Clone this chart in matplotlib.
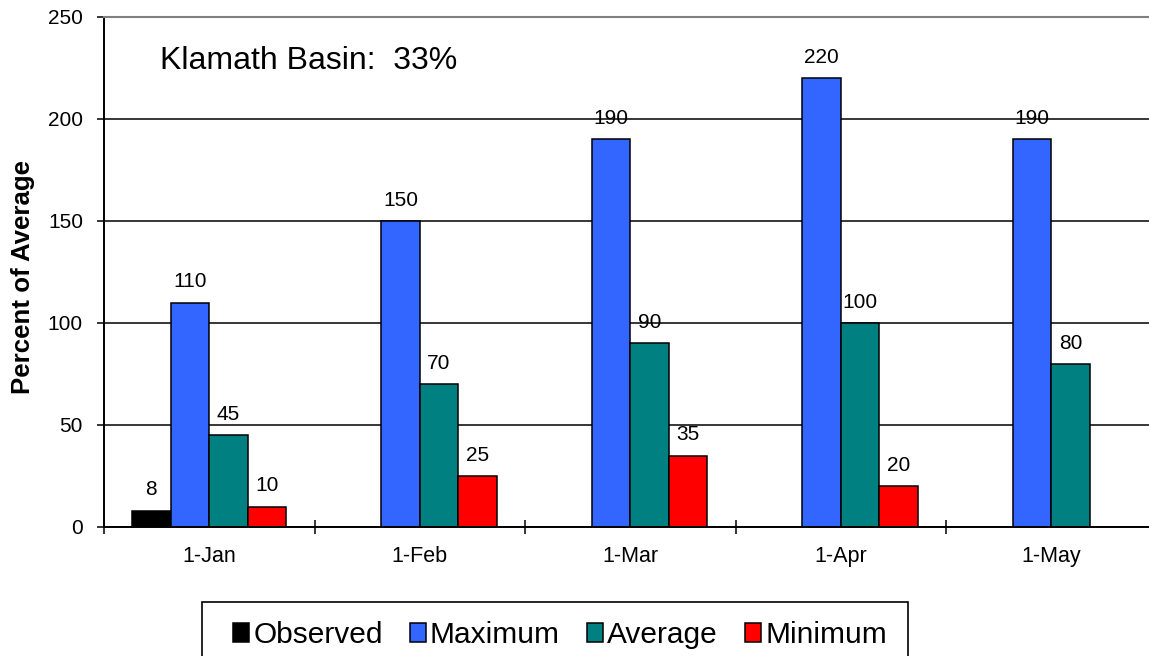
import numpy as np
import matplotlib
matplotlib.use("Agg")
import matplotlib.pyplot as plt
from matplotlib.patches import Rectangle
from matplotlib.ticker import FixedLocator, NullFormatter

plt.rcParams['font.family'] = ['Liberation Sans', 'DejaVu Sans']

# Forecast dates and percent-of-average values per series
categories = ['1-Jan', '1-Feb', '1-Mar', '1-Apr', '1-May']
observed = [8, np.nan, np.nan, np.nan, np.nan]
maximum = [110, 150, 190, 220, 190]
average = [45, 70, 90, 100, 80]
minimum = [10, 25, 35, 20, np.nan]

series_names = ['Observed', 'Maximum', 'Average', 'Minimum']
series_values = [observed, maximum, average, minimum]
series_colors = ['#000000', '#3366FF', '#008080', '#FF0000']

yticks = [0, 50, 100, 150, 200, 250]
title_text = 'Klamath Basin:  33%'
ylabel_text = 'Percent of Average'

W, H = 1149, 656
fig = plt.figure(figsize=(W / 100, H / 100), dpi=100)
ax = fig.add_axes([104 / W, 1 - 527 / H, 1052.5 / W, 510 / H])

x = np.arange(len(categories))
bar_w = 0.1833
offsets = (np.arange(len(series_names)) - 1.5) * bar_w

handles = []
for name, vals, col, off in zip(series_names, series_values, series_colors, offsets):
    vals = np.asarray(vals, dtype=float)
    bars = ax.bar(x + off, vals, width=bar_w, color=col, edgecolor='black',
                  linewidth=1.1, label=name, zorder=2)
    handles.append(bars)
    for xi, v in zip(x + off, vals):
        if np.isfinite(v):
            ax.annotate(f'{v:g}', xy=(xi, v), xytext=(0, 11),
                        textcoords='offset points', ha='center', va='baseline',
                        fontsize=15, color='black', zorder=4)

ax.set_xlim(-0.5, len(categories) - 0.5)
ax.set_ylim(0, 250)
ax.set_axisbelow(True)

# y axis
ax.set_yticks(yticks)
ax.yaxis.grid(True, color='black', linewidth=1.1)
ax.tick_params(axis='y', direction='out', length=5.2, width=1.1,
               labelsize=15, pad=10, colors='black')

# x axis: boundary ticks crossing the axis, labels centred on categories
ax.xaxis.set_major_locator(FixedLocator(np.arange(len(categories) + 1) - 0.5))
ax.xaxis.set_major_formatter(NullFormatter())
ax.xaxis.set_minor_locator(FixedLocator(x))
ax.set_xticklabels(categories, minor=True)
ax.tick_params(axis='x', which='major', direction='inout', length=9.5, width=1.1)
ax.tick_params(axis='x', which='minor', length=0, labelsize=15.5, pad=13.5)

for side in ['left', 'bottom']:
    ax.spines[side].set_color('black')
    ax.spines[side].set_linewidth(1.4)
ax.spines['top'].set_color('#808080')
ax.spines['top'].set_linewidth(1.5)
ax.spines['right'].set_visible(False)

fig.text(160 / W, 1 - 69.3 / H, title_text, fontsize=23, ha='left',
         va='baseline', color='black')
fig.text(23 / W, 1 - 276.5 / H, ylabel_text, fontsize=18.6, fontweight='bold',
         rotation=90, ha='center', va='center')

# legend box and entries
fig.patches.append(Rectangle((202 / W, -0.05), (908 - 202) / W, 0.05 + (656 - 602) / H,
                             transform=fig.transFigure, facecolor='white',
                             edgecolor='black', linewidth=1.2, zorder=1))
leg = fig.legend(handles=handles, labels=series_names, loc='upper left',
                 bbox_to_anchor=(233 / W, 1 - 621 / H), ncol=4, frameon=False,
                 fontsize=21.5, handlelength=0.53, handleheight=0.62,
                 handletextpad=0.15, columnspacing=0.9, borderpad=0,
                 borderaxespad=0)
leg.set_zorder(3)

fig.savefig('out.png', dpi=100)
